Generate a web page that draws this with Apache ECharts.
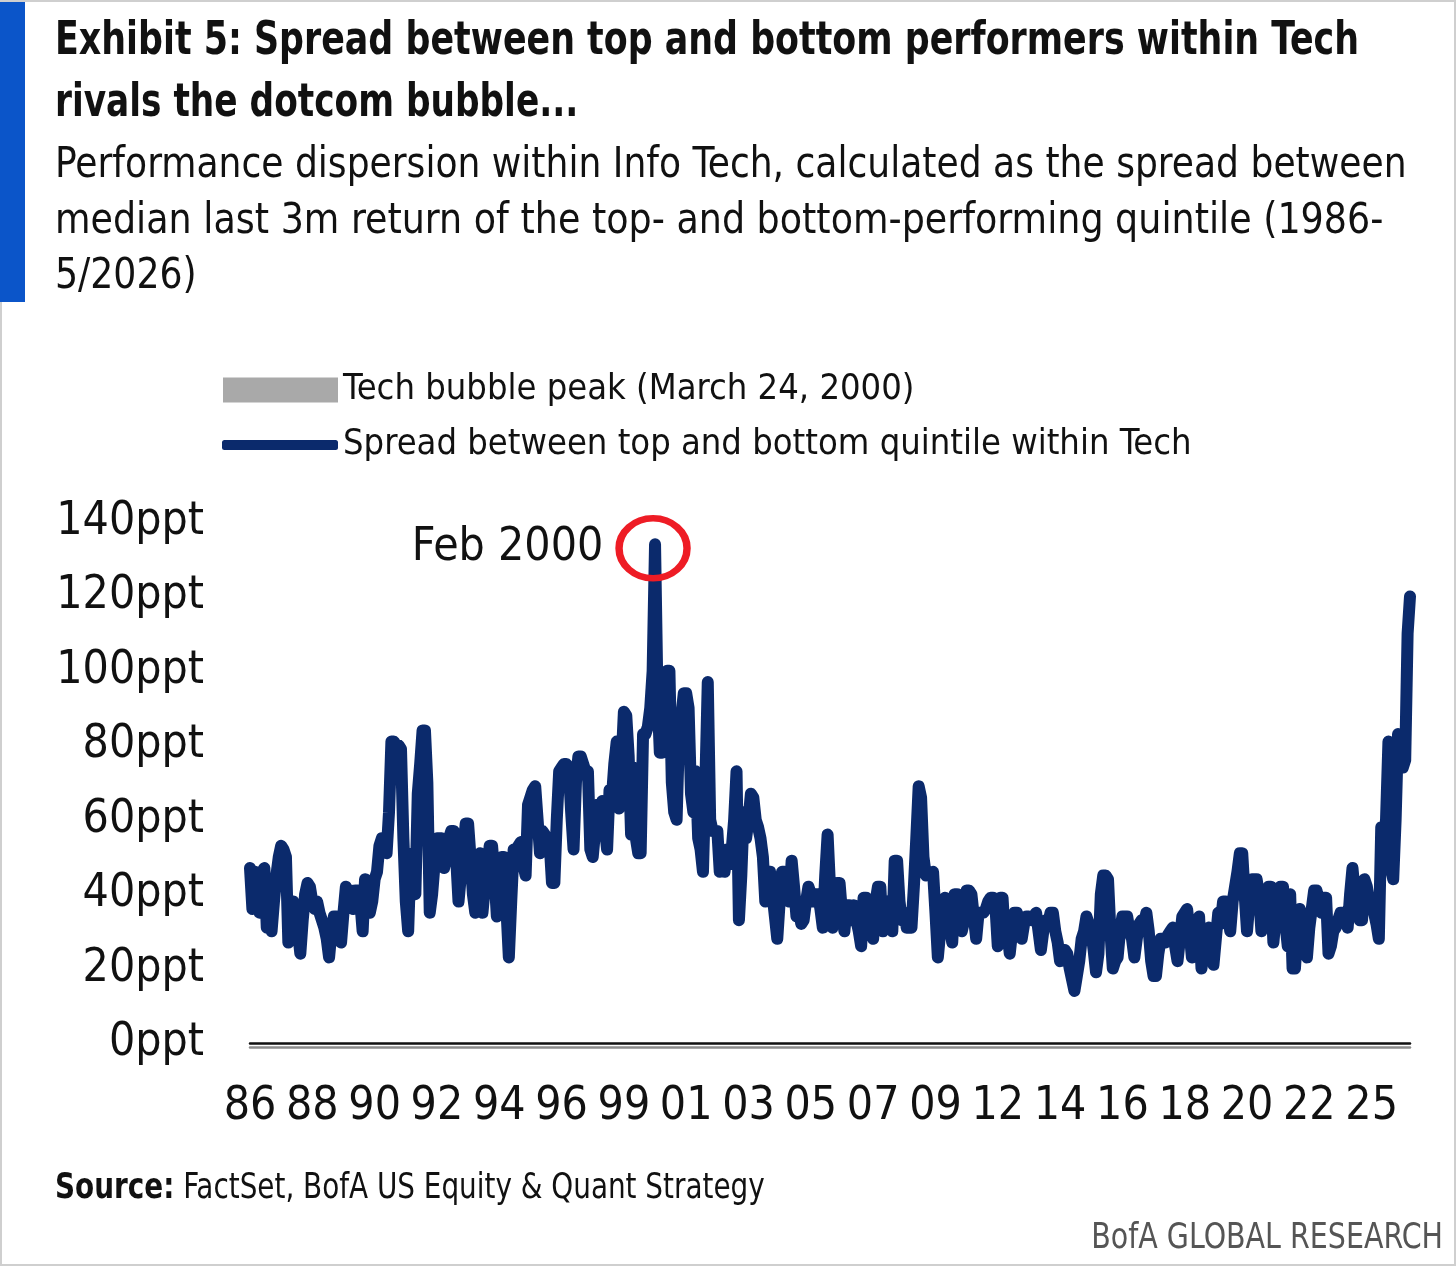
<!DOCTYPE html>
<html>
<head>
<meta charset="utf-8">
<script src="https://cdn.jsdelivr.net/npm/echarts@6/dist/echarts.min.js"></script>
<style>
  html, body { margin: 0; padding: 0; background: #fff; }
  #chart { width: 1456px; height: 1266px; }
</style>
</head>
<body>
<div id="chart"></div>
<script>
// monthly spread (ppt), Jan 1986 .. May 2026, one row per year
const spread1986to1995 = [
  47, 36, 46, 42, 35, 46, 47, 31, 36, 30, 38, 45,
  50, 53, 52, 50, 27, 30, 38, 35, 30, 24, 33, 40,
  43, 42, 38, 36, 38, 35, 33, 31, 28, 23, 30, 34,
  34, 30, 27, 35, 42, 40, 41, 36, 41, 41, 38, 30,
  44, 40, 35, 38, 44, 46, 53, 55, 55, 51, 62, 81,
  81, 80, 80, 79, 55, 38, 30, 50, 51, 40, 67, 75,
  84, 84, 70, 35, 40, 48, 55, 55, 55, 47, 50, 55,
  57, 57, 50, 38, 45, 52, 59, 59, 50, 40, 35, 42,
  51, 35, 42, 46, 53, 53, 45, 34, 40, 50, 50, 36,
  23, 38, 52, 52, 53, 54, 48, 45, 64, 66, 68, 69
];
const spread1996to2005 = [
  60, 51, 57, 56, 54, 54, 43, 43, 60, 73, 74, 75,
  75, 74, 62, 52, 70, 77, 77, 75, 73, 73, 52, 50,
  57, 64, 62, 65, 58, 52, 68, 66, 75, 81, 63, 75,
  89, 88, 77, 56, 74, 55, 51, 51, 83, 83, 85, 90,
  100, 134, 94, 78, 78, 88, 100, 100, 70, 62, 60, 83,
  88, 94, 94, 90, 67, 62, 73, 55, 52, 46, 70, 97,
  60, 57, 57, 57, 46, 50, 46, 52, 48, 52, 60, 73,
  33, 45, 62, 55, 60, 67, 66, 60, 58, 55, 50, 38,
  40, 46, 40, 34, 28, 38, 46, 46, 40, 38, 49, 42,
  34, 36, 32, 33, 38, 42, 40, 38, 40, 40, 36, 31
];
const spread2006to2015 = [
  45, 56, 42, 31, 38, 43, 43, 35, 30, 37, 37, 33,
  37, 33, 30, 26, 39, 39, 34, 30, 28, 38, 42, 42,
  30, 36, 38, 34, 30, 49, 49, 38, 33, 35, 31, 31,
  31, 42, 55, 69, 66, 50, 45, 46, 45, 46, 35, 23,
  30, 36, 39, 36, 31, 27, 40, 40, 35, 30, 33, 41,
  41, 40, 34, 28, 35, 35, 35, 36, 38, 39, 39, 37,
  26, 39, 39, 28, 30, 24, 30, 35, 35, 33, 28, 32,
  34, 34, 33, 34, 35, 30, 25, 30, 33, 32, 35, 35,
  30, 27, 22, 24, 25, 24, 20, 17, 14, 18, 22, 28,
  30, 34, 32, 30, 25, 19, 24, 40, 45, 45, 44, 30
];
const spread2016to2026 = [
  20, 22, 23, 30, 34, 34, 34, 30, 28, 23, 28, 32,
  33, 32, 35, 30, 22, 18, 18, 24, 28, 28, 27, 29,
  30, 31, 26, 22, 28, 34, 35, 36, 30, 23, 28, 32,
  34, 20, 25, 30, 31, 26, 21, 28, 35, 32, 38, 38,
  35, 30, 38, 42, 46, 51, 51, 40, 30, 38, 44, 44,
  44, 40, 30, 35, 40, 42, 42, 27, 34, 38, 42, 42,
  32, 26, 40, 20, 20, 30, 36, 34, 28, 23, 31, 36,
  41, 41, 38, 35, 39, 39, 24, 26, 30, 31, 33, 35,
  35, 33, 31, 40, 47, 40, 35, 33, 33, 44, 42, 38,
  38, 35, 32, 28, 58, 54, 60, 81, 47, 44, 60, 83,
  82, 74, 76, 110, 120
];
const yTicks = [0, 20, 40, 60, 80, 100, 120, 140];
const bubblePeakMonth = '2000-03';
const annotatedMonth = '2000-02';
const annotatedValue = 134;

const spread = [].concat(spread1986to1995, spread1996to2005, spread2006to2015, spread2016to2026);

// category labels yyyy-mm
const months = [];
for (let y = 1986; y <= 2026; y++) {
  for (let m = 1; m <= 12; m++) {
    if (months.length >= spread.length) break;
    months.push(y + '-' + String(m).padStart(2, '0'));
  }
}

const FONT = "'DejaVu Sans Condensed', 'Roboto', sans-serif";
const NAVY = '#0b2a6c';
const GREY = '#a9a9a9';

const chart = echarts.init(document.getElementById('chart'), null, { renderer: 'canvas' });

// header / footer text, squeezed horizontally to mimic the condensed house font
function label(text, x, y, font, sx, extra) {
  return Object.assign({
    type: 'text', x: x, y: y, scaleX: sx,
    style: { text: text, font: font, fill: '#111', verticalAlign: 'middle' }
  }, extra || {});
}

const option = {
  animation: false,
  backgroundColor: '#fff',
  textStyle: { fontFamily: FONT },
  grid: { left: 250, right: 46, top: 522, bottom: 223, containLabel: false },
  legend: [
    {
      data: ['Tech bubble peak (March 24, 2000)'],
      left: 223, top: 370, padding: 0,
      icon: 'rect', itemWidth: 115, itemHeight: 25,
      textStyle: { fontSize: 36, color: '#111', fontFamily: FONT, lineHeight: 40 },
      selectedMode: false
    },
    {
      data: ['Spread between top and bottom quintile within Tech'],
      left: 222, top: 425, padding: 0,
      icon: 'roundRect', itemWidth: 116, itemHeight: 10,
      textStyle: { fontSize: 36, color: '#111', fontFamily: FONT, lineHeight: 40 },
      selectedMode: false
    }
  ],
  xAxis: {
    type: 'category',
    data: months,
    boundaryGap: false,
    axisLine: {
      lineStyle: { color: '#111', width: 2.5, shadowColor: 'rgba(0,0,0,0.45)', shadowOffsetY: 4, shadowBlur: 0 }
    },
    axisTick: { show: false },
    splitLine: { show: false },
    axisLabel: {
      interval: 25,
      margin: 41,
      fontSize: 46,
      color: '#111',
      fontFamily: FONT,
      formatter: v => v.slice(2, 4)
    }
  },
  yAxis: {
    type: 'value',
    min: 0, max: 140, interval: 20,
    axisLine: { show: false },
    axisTick: { show: false },
    splitLine: { show: false },
    axisLabel: {
      margin: 46,
      fontSize: 46,
      color: '#111',
      fontFamily: FONT,
      formatter: v => (yTicks.indexOf(v) >= 0 ? v + 'ppt' : '')
    }
  },
  series: [
    {
      name: 'Tech bubble peak (March 24, 2000)',
      type: 'line',
      data: [],
      color: GREY,
      clip: false,
      markLine: {
        silent: true,
        symbol: 'none',
        label: { show: false },
        lineStyle: { color: GREY, width: 3, type: 'solid' },
        data: [[{ coord: [bubblePeakMonth, 0] }, { coord: [bubblePeakMonth, 150] }]]
      }
    },
    {
      name: 'Spread between top and bottom quintile within Tech',
      type: 'line',
      data: spread,
      color: NAVY,
      showSymbol: false,
      symbol: 'none',
      lineStyle: { color: NAVY, width: 12, cap: 'round', join: 'round' },
      emphasis: { disabled: true },
      z: 3,
      markPoint: {
        silent: true,
        symbol: 'circle',
        symbolSize: [68, 60],
        symbolOffset: [-2, 4],
        itemStyle: { color: 'rgba(0,0,0,0)', borderColor: '#ee1c25', borderWidth: 7 },
        label: {
          show: true,
          position: 'left',
          distance: 12,
          formatter: 'Feb 2000',
          fontSize: 46,
          color: '#111',
          fontFamily: FONT
        },
        data: [{ coord: [annotatedMonth, annotatedValue] }]
      }
    }
  ],
  graphic: [
    { type: 'rect', shape: { x: 1, y: 1, width: 1454, height: 1264 }, style: { fill: 'none', stroke: '#cfcfcf', lineWidth: 2 } },
    { type: 'rect', shape: { x: 0, y: 2, width: 25, height: 300 }, style: { fill: '#0b55c9' } },
    label('Exhibit 5: Spread between top and bottom performers within Tech', 55, 42, 'bold 46px ' + FONT, 0.842),
    label('rivals the dotcom bubble...', 55, 104, 'bold 46px ' + FONT, 0.83),
    label('Performance dispersion within Info Tech, calculated as the spread between', 55, 166, '42px ' + FONT, 0.955),
    label('median last 3m return of the top- and bottom-performing quintile (1986-', 55, 222, '42px ' + FONT, 0.965),
    label('5/2026)', 55, 277, '42px ' + FONT, 0.96),
    {
      type: 'text', x: 55, y: 1189, scaleX: 0.86,
      style: {
        text: '{b|Source:} FactSet, BofA US Equity & Quant Strategy',
        font: '36px ' + FONT, fill: '#111', verticalAlign: 'middle',
        rich: { b: { fontWeight: 'bold', fontSize: 36, fontFamily: FONT, fill: '#111' } }
      }
    },
    {
      type: 'text', x: 1443, y: 1239, scaleX: 0.88,
      style: { text: 'BofA GLOBAL RESEARCH', font: '36px ' + FONT, fill: '#555', align: 'right', verticalAlign: 'middle' }
    }
  ]
};

chart.setOption(option);
</script>
</body>
</html>
